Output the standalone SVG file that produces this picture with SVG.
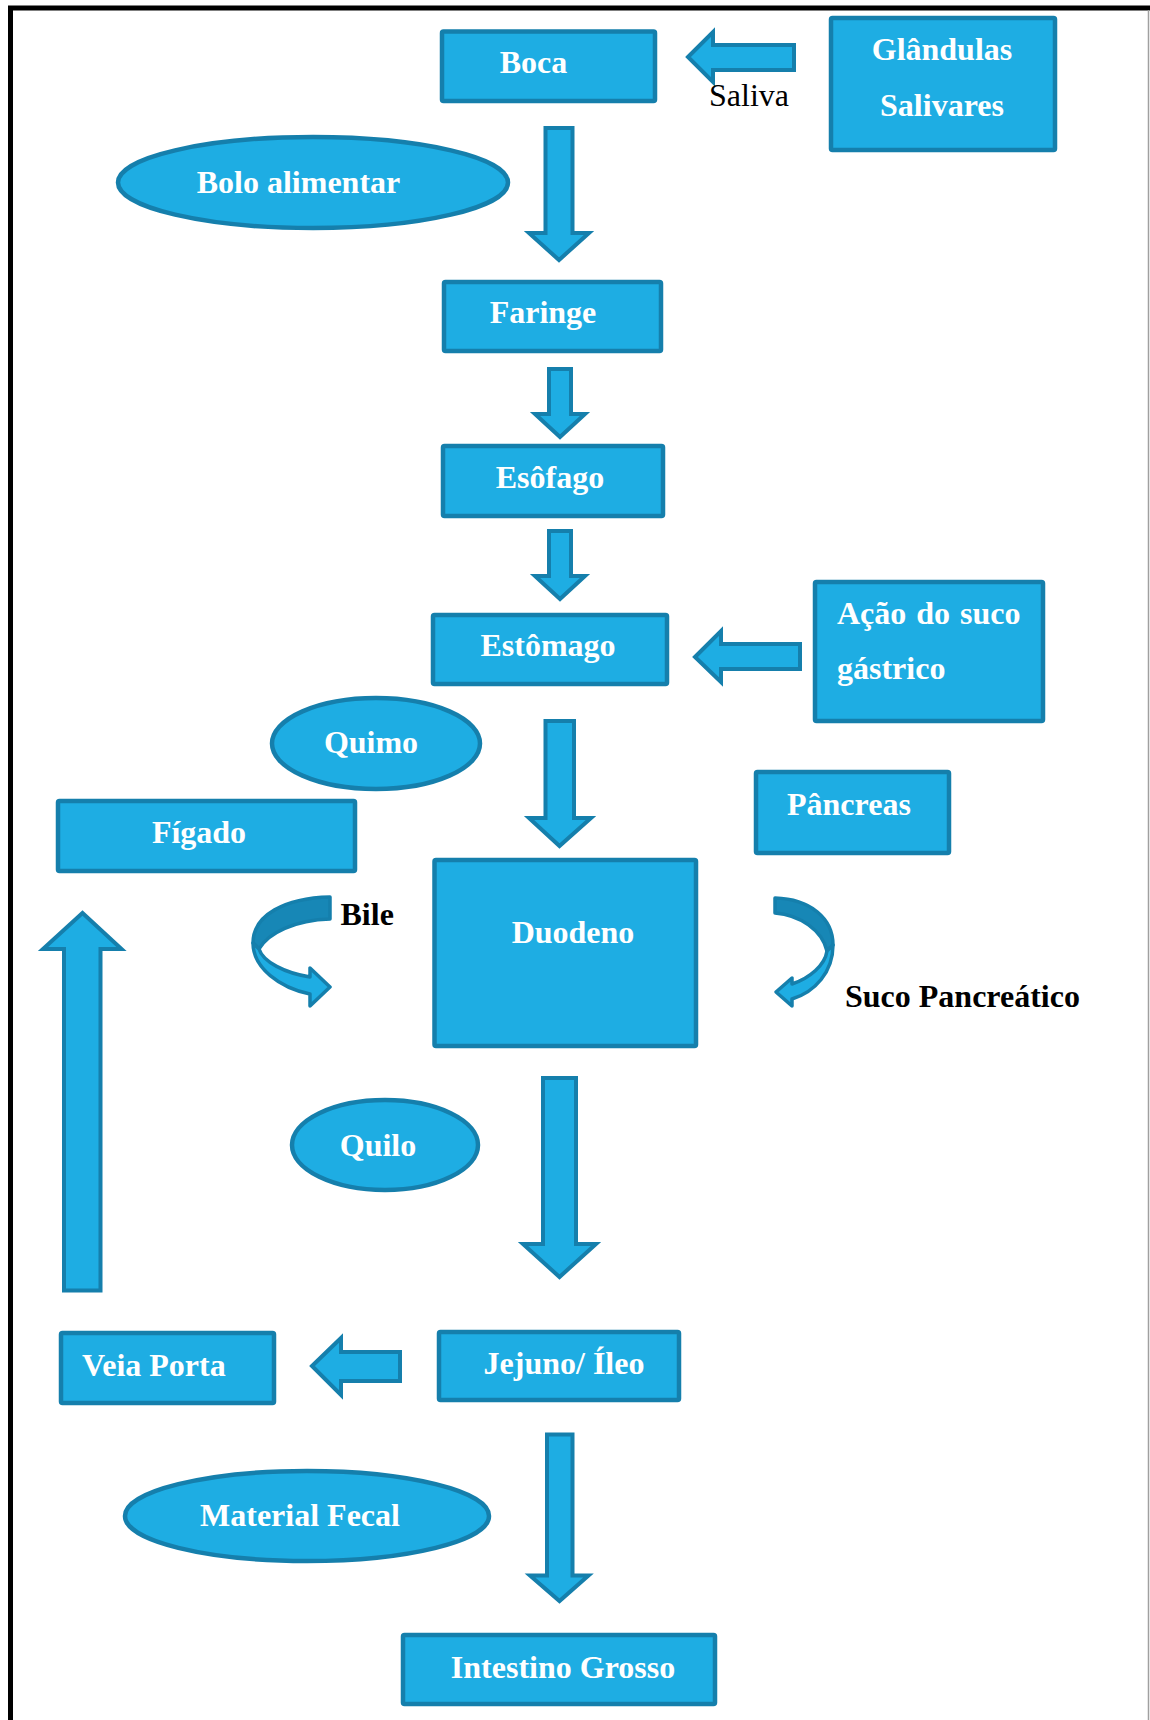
<svg xmlns="http://www.w3.org/2000/svg" width="1150" height="1720" viewBox="0 0 1150 1720">
  <style>
    .box { fill: #1EADE3; stroke: #157FAC; stroke-width: 4.5; }
    .blk { fill: #1EADE3; stroke: #157FAC; stroke-width: 4; stroke-linejoin: miter; }
    .dark { fill: #1787B6; stroke: #157FAC; stroke-width: 3.5; stroke-linejoin: round; }
    .light { fill: #1EADE3; stroke: #157FAC; stroke-width: 3.5; stroke-linejoin: round; }
    .lbl { font-family: "Liberation Serif", "Times New Roman", serif; font-size: 32px; font-weight: bold; fill: #FFFFFF; }
    .c { text-anchor: middle; }
    .note { font-family: "Liberation Serif", "Times New Roman", serif; font-size: 32px; fill: #000000; }
    .noteb { font-family: "Liberation Serif", "Times New Roman", serif; font-size: 32px; font-weight: bold; fill: #000000; }
  </style>
  <rect x="0" y="0" width="1150" height="1720" fill="#FFFFFF"/>
  <g id="frame">
    <line x1="10.5" y1="6" x2="10.5" y2="1720" stroke="#000000" stroke-width="5"/>
    <line x1="8" y1="8" x2="1150" y2="8" stroke="#000000" stroke-width="5"/>
    <line x1="1148.5" y1="10" x2="1148.5" y2="1720" stroke="#A0A0A0" stroke-width="1.5"/>
  </g>
  <g id="connectors">
    <path class="blk" d="M 688,57 L 713,32 L 713,45 L 794,45 L 794,70 L 713,70 L 713,82 Z"/>
    <path class="blk" d="M 545.5,128 L 572.5,128 L 572.5,233 L 589,233 L 559,260 L 529,233 L 545.5,233 Z"/>
    <path class="blk" d="M 549,369 L 571,369 L 571,414 L 585,414 L 560,437 L 535,414 L 549,414 Z"/>
    <path class="blk" d="M 549,531 L 571,531 L 571,576 L 585,576 L 560,599 L 535,576 L 549,576 Z"/>
    <path class="blk" d="M 695,657 L 721,631 L 721,644 L 800,644 L 800,669 L 721,669 L 721,682 Z"/>
    <path class="blk" d="M 545.5,721 L 574,721 L 574,818 L 591,818 L 559.5,846 L 529,818 L 545.5,818 Z"/>
    <g id="bile-arrow">
      <path class="dark" d="M 330,897 C 285,898 253,915 253,943 L 259,949 C 268,933 295,920 330,919 Z"/>
      <path class="light" d="M 253,943 C 253,968 280,988 310,994 L 310,1006 L 330,987 L 310,968 L 310,977 C 285,973 263,962 259,949 Z"/>
    </g>
    <g id="suco-arrow">
      <path class="dark" d="M 775,898 C 810,899 833,918 833,945 L 827,951 C 822,930 800,915 775,913 Z"/>
      <path class="light" d="M 833,945 C 833,972 815,992 792,999 L 792,1006 L 776,992 L 792,978 L 792,984 C 810,978 825,965 827,951 Z"/>
    </g>
    <path class="blk" d="M 543,1078 L 576,1078 L 576,1244 L 596,1244 L 559.5,1277 L 523,1244 L 543,1244 Z"/>
    <path class="blk" d="M 312,1366 L 341,1338 L 341,1352 L 400,1352 L 400,1381 L 341,1381 L 341,1395 Z"/>
    <path class="blk" d="M 547,1434.5 L 572.5,1434.5 L 572.5,1575.5 L 588.5,1575.5 L 559.5,1601 L 530,1575.5 L 547,1575.5 Z"/>
    <path class="blk" d="M 82.5,913 L 121.5,949 L 100.5,949 L 100.5,1290.5 L 64,1290.5 L 64,949 L 43,949 Z"/>
  </g>
  <g id="boca">
    <rect class="box" x="442" y="31.5" width="213" height="69.5" rx="1.5"/>
    <text class="lbl c" x="533.5" y="73">Boca</text>
  </g>
  <g id="glandulas">
    <rect class="box" x="831" y="18" width="224" height="132" rx="1.5"/>
    <text class="lbl c" x="942" y="60">Glândulas</text>
    <text class="lbl c" x="942" y="116">Salivares</text>
  </g>
  <g id="saliva-label">
    <text class="note" x="709" y="106">Saliva</text>
  </g>
  <g id="bolo">
    <ellipse class="box" cx="313" cy="182.5" rx="195" ry="45.5"/>
    <text class="lbl c" x="298.5" y="193">Bolo alimentar</text>
  </g>
  <g id="faringe">
    <rect class="box" x="444" y="282" width="217" height="69" rx="1.5"/>
    <text class="lbl c" x="543" y="323">Faringe</text>
  </g>
  <g id="esofago">
    <rect class="box" x="443" y="446" width="220" height="70" rx="1.5"/>
    <text class="lbl c" x="550" y="488">Esôfago</text>
  </g>
  <g id="estomago">
    <rect class="box" x="433" y="615" width="234" height="69" rx="1.5"/>
    <text class="lbl c" x="548" y="656">Estômago</text>
  </g>
  <g id="acao">
    <rect class="box" x="815" y="582" width="228" height="139" rx="1.5"/>
    <text class="lbl" x="837" y="624" word-spacing="2">Ação do suco</text>
    <text class="lbl" x="837" y="679">gástrico</text>
  </g>
  <g id="quimo">
    <ellipse class="box" cx="376" cy="743.5" rx="104" ry="45.5"/>
    <text class="lbl c" x="371" y="753">Quimo</text>
  </g>
  <g id="pancreas">
    <rect class="box" x="756" y="772" width="193" height="81" rx="1.5"/>
    <text class="lbl" x="787" y="815">Pâncreas</text>
  </g>
  <g id="figado">
    <rect class="box" x="58" y="801" width="297" height="70" rx="1.5"/>
    <text class="lbl c" x="199" y="843">Fígado</text>
  </g>
  <g id="bile-label">
    <text class="noteb" x="340.5" y="925">Bile</text>
  </g>
  <g id="duodeno">
    <rect class="box" x="434.5" y="860" width="261.5" height="186" rx="1.5"/>
    <text class="lbl c" x="573" y="943">Duodeno</text>
  </g>
  <g id="suco-label">
    <text class="noteb" x="845" y="1007">Suco Pancreático</text>
  </g>
  <g id="quilo">
    <ellipse class="box" cx="385" cy="1145" rx="93" ry="45"/>
    <text class="lbl c" x="378" y="1156">Quilo</text>
  </g>
  <g id="veia-porta">
    <rect class="box" x="61" y="1333" width="213" height="70" rx="1.5"/>
    <text class="lbl" x="82" y="1376">Veia Porta</text>
  </g>
  <g id="jejuno">
    <rect class="box" x="439" y="1332" width="240" height="68" rx="1.5"/>
    <text class="lbl c" x="564" y="1373.5">Jejuno/ Íleo</text>
  </g>
  <g id="material-fecal">
    <ellipse class="box" cx="307" cy="1516" rx="182" ry="45"/>
    <text class="lbl c" x="300" y="1526">Material Fecal</text>
  </g>
  <g id="intestino-grosso">
    <rect class="box" x="403" y="1635" width="312" height="69" rx="1.5"/>
    <text class="lbl c" x="563" y="1678">Intestino Grosso</text>
  </g>
</svg>
